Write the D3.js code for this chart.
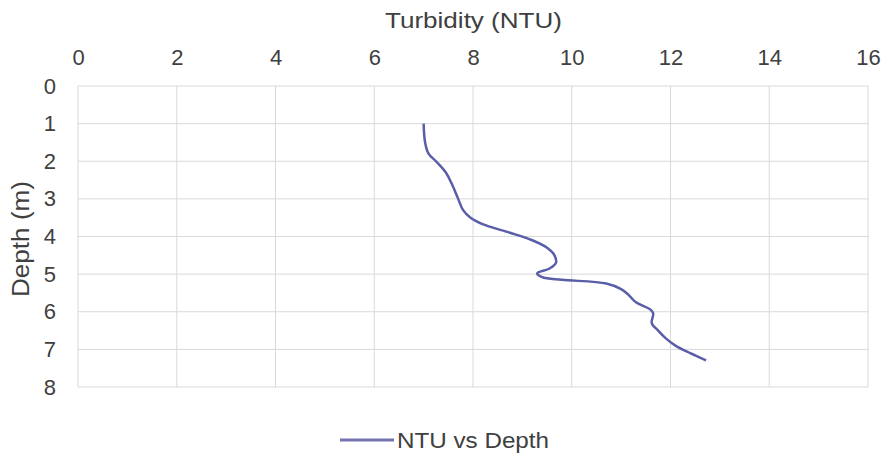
<!DOCTYPE html>
<html><head><meta charset="utf-8">
<script src="https://cdn.jsdelivr.net/npm/d3@7"></script>
<style>body{margin:0;background:#fff}svg{display:block}text{font-family:"Liberation Sans",Arial,sans-serif;fill:#404040}</style>
</head><body>
<script>
const depth = [1.0,1.5,1.8,2.0,2.3,2.6,3.0,3.3,3.5,3.7,3.9,4.1,4.3,4.5,4.7,4.85,4.98,5.08,5.15,5.25,5.4,5.55,5.75,5.95,6.05,6.3,6.5,6.7,6.9,7.1,7.29];
const ntu   = [7.0,7.03,7.1,7.25,7.45,7.57,7.7,7.8,7.95,8.25,8.75,9.2,9.5,9.65,9.68,9.55,9.3,9.4,9.8,10.7,11.0,11.15,11.3,11.6,11.65,11.62,11.75,11.9,12.1,12.4,12.72];
const xTicks = [0,2,4,6,8,10,12,14,16];
const yTicks = [0,1,2,3,4,5,6,7,8];
const xTitle = "Turbidity (NTU)";
const yTitle = "Depth (m)";
const seriesName = "NTU vs Depth";

const W=888,H=458;
const svg=d3.select("body").append("svg").attr("width",W).attr("height",H);
const x=d3.scaleLinear().domain([0,16]).range([78,868]);
const y=d3.scaleLinear().domain([0,8]).range([86,387]);

svg.append("g").selectAll("line").data(xTicks).join("line")
  .attr("x1",d=>x(d)).attr("x2",d=>x(d)).attr("y1",y(0)).attr("y2",y(8))
  .attr("stroke","#d9d9d9").attr("stroke-width",1);
svg.append("g").selectAll("line").data(yTicks).join("line")
  .attr("y1",d=>y(d)).attr("y2",d=>y(d)).attr("x1",x(0)).attr("x2",x(16))
  .attr("stroke","#d9d9d9").attr("stroke-width",1);

const ff='"Liberation Sans",Arial,sans-serif';
const xa=svg.append("g").attr("transform",`translate(0,${y(0)})`)
  .call(d3.axisTop(x).tickValues(xTicks).tickSize(0).tickPadding(21));
xa.select(".domain").remove();
xa.selectAll("text").attr("font-size",22).attr("fill","#404040").style("font-family",ff);
const ya=svg.append("g").attr("transform",`translate(${x(0)},0)`)
  .call(d3.axisLeft(y).tickValues(yTicks).tickSize(0).tickPadding(22));
ya.select(".domain").remove();
ya.selectAll("text").attr("font-size",22).attr("fill","#404040").style("font-family",ff);

svg.append("text").attr("x",385).attr("y",28).attr("font-size",22)
  .attr("textLength",177).attr("lengthAdjust","spacingAndGlyphs").text(xTitle);
svg.append("text").attr("transform",`translate(29,297) rotate(-90)`).attr("font-size",23)
  .attr("textLength",116).attr("lengthAdjust","spacingAndGlyphs").text(yTitle);

const data=depth.map((d,i)=>({d,v:ntu[i]}));
svg.append("path").datum(data)
  .attr("d",d3.line().x(p=>x(p.v)).y(p=>y(p.d)).curve(d3.curveCatmullRom.alpha(0.5)))
  .attr("fill","none").attr("stroke","#5a5ea8").attr("stroke-width",2.5);

svg.append("line").attr("x1",340).attr("x2",394).attr("y1",440).attr("y2",440).attr("stroke","#7472b0").attr("stroke-width",3);
svg.append("text").attr("x",397).attr("y",448).attr("font-size",22)
  .attr("textLength",152).attr("lengthAdjust","spacingAndGlyphs").text(seriesName);
</script>
</body></html>
